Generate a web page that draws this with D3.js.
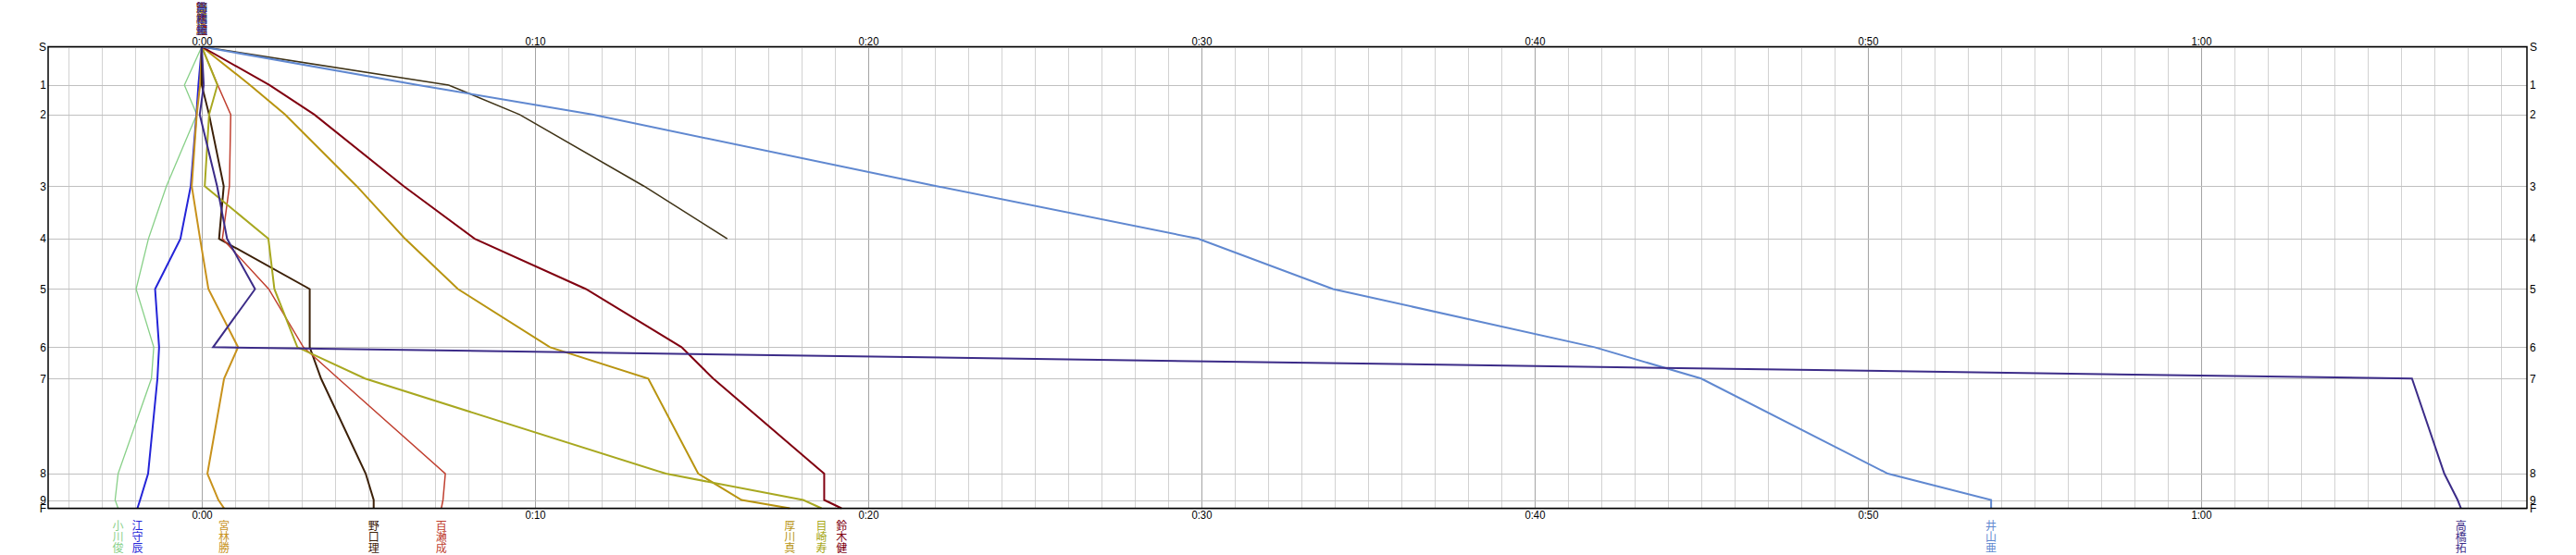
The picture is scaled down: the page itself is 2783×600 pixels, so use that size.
<!DOCTYPE html>
<html><head><meta charset="utf-8">
<script src="https://cdn.jsdelivr.net/npm/d3@7"></script>
<style>body{margin:0;background:#fff}svg{display:block}</style>
</head><body><svg id="c" width="2783" height="600"></svg>
<script>
// ---- data ----
const controls   = ["S","1","2","3","4","5","6","7","8","9","F"];
const controlPos = [0, 83, 147, 302, 416, 525, 651, 719, 925, 982, 1000];
const timeTicks  = [0, 10, 20, 30, 40, 50, 60];
const tickLabels = ["0:00","0:10","0:20","0:30","0:40","0:50","1:00"];

// minutes behind reference at each control (S..F)
const ogawa     = [0, -0.52, -0.15, -1.06, -1.60, -1.97, -1.44, -1.51, -2.51, -2.60, -2.51];
const emori     = [0, -0.10, -0.16, -0.33, -0.64, -1.40, -1.28, -1.33, -1.61, -1.85, -1.93];
const miyabayashi = [0, -0.05, -0.15, -0.30, -0.05, 0.20, 1.09, 0.67, 0.17, 0.50, 0.67];
const noguchi   = [0, 0.00, 0.22, 0.66, 0.52, 3.24, 3.24, 3.58, 4.92, 5.16, 5.16];
const momose    = [0, 0.48, 0.87, 0.83, 0.62, 2.01, 3.05, 4.10, 7.31, 7.24, 7.19];
const atsukawa  = [0, 1.45, 2.50, 4.65, 6.10, 7.69, 10.45, 13.40, 14.90, 16.20, 17.65];
const mesaki    = [0, 0.47, 0.22, 0.09, 2.00, 2.18, 2.87, 4.90, 13.93, 18.05, 18.60];
const suzuki    = [0, 2.03, 3.38, 6.06, 8.19, 11.53, 14.40, 15.35, 18.68, 18.68, 19.20];
const dnfRunner = [0, 7.41, 9.54, 13.27, 15.77, null, null, null, null, null, null];
const iyama     = [0, 6.50, 11.72, 22.05, 29.90, 33.95, 41.80, 45.00, 50.60, 53.70, 53.70];
const takahashi = [0, 0.06, -0.06, 0.46, 0.76, 1.60, 0.34, 66.33, 67.30, 67.70, 67.80];

const runnerNames  = ["小川俊","江守辰","宮林勝","野口理","百瀬成","厚川真","目崎寿","鈴木健","","井山亜","高橋拓"];
const runnerColors = ["#88d088","#2424d8","#c8921c","#3c2008","#c04030","#b89410","#a8a820","#800010","#403418","#6088d0","#3c2c88"];
const runnerValues = [ogawa, emori, miyabayashi, noguchi, momose, atsukawa, mesaki, suzuki, dnfRunner, iyama, takahashi];
const runnerWidths = [1.3, 2, 2, 2, 1.5, 2, 2, 2, 1.6, 2, 2];

// ---- chart ----
const svg = d3.select("#c");
const x = d3.scaleLinear().domain([-4.61, 69.78]).range([52, 2730]);
const y = d3.scaleLinear().domain([0, 1000]).range([50.5, 549.5]);
const [x0, x1] = x.range(), [y0, y1] = y.range();

// vertical grid (every minute)
const minutes = d3.range(Math.ceil(x.domain()[0]), Math.floor(x.domain()[1]) + 1);
svg.append("g").selectAll("line").data(minutes).join("line")
  .attr("x1", d => Math.round(x(d)) + 0.5).attr("x2", d => Math.round(x(d)) + 0.5)
  .attr("y1", y0).attr("y2", y1)
  .attr("stroke", d => d % 10 === 0 ? "#a4a4a4" : "#d2d2d2")
  .attr("stroke-width", 1).attr("shape-rendering", "crispEdges");

// horizontal grid (controls)
svg.append("g").selectAll("line").data(controlPos).join("line")
  .attr("x1", x0).attr("x2", x1)
  .attr("y1", d => Math.round(y(d)) + 0.5).attr("y2", d => Math.round(y(d)) + 0.5)
  .attr("stroke", "#c0c0c0").attr("stroke-width", 1.2).attr("shape-rendering", "crispEdges");

// lines
const line = d3.line()
  .defined(d => d != null)
  .x(d => x(d))
  .y((d, i) => y(controlPos[i]));
const runners = runnerNames.map((n, i) => ({name: n, color: runnerColors[i], values: runnerValues[i], w: runnerWidths[i]}));
svg.append("g").selectAll("path").data(runners).join("path")
  .attr("d", r => line(r.values))
  .attr("fill", "none").attr("stroke", r => r.color)
  .attr("stroke-width", r => r.w).attr("stroke-linejoin", "miter");

// frame
svg.append("rect").attr("x", x0).attr("y", y0).attr("width", x1 - x0).attr("height", y1 - y0)
  .attr("fill", "none").attr("stroke", "#000").attr("stroke-width", 1.5);

// axes
const fmt = (d) => tickLabels[timeTicks.indexOf(d)];
const styleAxis = g => {
  g.select(".domain").remove();
  g.selectAll("text").attr("font-family", "Liberation Sans, Arial, sans-serif")
    .attr("font-size", 12).attr("fill", "#000");
};
svg.append("g").attr("transform", `translate(0,${y0})`)
  .call(d3.axisTop(x).tickValues(timeTicks).tickFormat(fmt).tickSize(0).tickPadding(2))
  .call(styleAxis)
  .selectAll("text").attr("textLength", 22).attr("lengthAdjust", "spacingAndGlyphs");
svg.append("g").attr("transform", `translate(0,${y1})`)
  .call(d3.axisBottom(x).tickValues(timeTicks).tickFormat(fmt).tickSize(0).tickPadding(3))
  .call(styleAxis)
  .selectAll("text").attr("textLength", 22).attr("lengthAdjust", "spacingAndGlyphs");
const cfmt = d => controls[controlPos.indexOf(d)];
svg.append("g").attr("transform", `translate(${x0},0)`)
  .call(d3.axisLeft(y).tickValues(controlPos).tickFormat(cfmt).tickSize(0).tickPadding(2))
  .call(styleAxis);
svg.append("g").attr("transform", `translate(${x1},0)`)
  .call(d3.axisRight(y).tickValues(controlPos).tickFormat(cfmt).tickSize(0).tickPadding(3))
  .call(styleAxis);

// names: finish (bottom) and start (top, overlapping)
const nameFont = "'Noto Sans CJK JP', sans-serif";
runners.filter(r => r.name && r.values[r.values.length - 1] != null).forEach(r => {
  const fx = x(r.values[r.values.length - 1]);
  svg.append("g").selectAll("text").data(Array.from(r.name)).join("text")
    .attr("x", fx).attr("y", (c, k) => 567.5 + 12 * k)
    .attr("text-anchor", "middle").attr("dominant-baseline", "central")
    .attr("font-family", nameFont).attr("font-size", 12).attr("fill", r.color)
    .text(c => c);
});
runners.filter(r => r.name).forEach(r => {
  svg.append("g").selectAll("text").data(Array.from(r.name)).join("text")
    .attr("x", x(r.values[0])).attr("y", (c, k) => 7.3 + 11.9 * k)
    .attr("text-anchor", "middle").attr("dominant-baseline", "central")
    .attr("font-family", nameFont).attr("font-size", 12).attr("fill", r.color)
    .text(c => c);
});
</script></body></html>
